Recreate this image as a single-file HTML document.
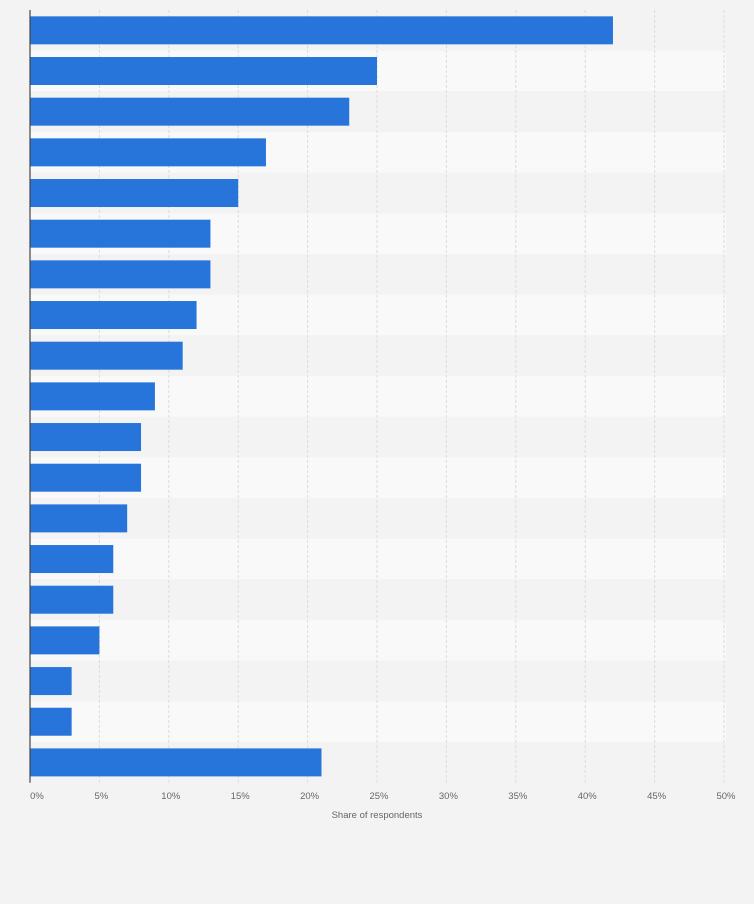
<!DOCTYPE html>
<html><head><meta charset="utf-8"><style>
body{margin:0;background:#f3f3f3;font-family:"Liberation Sans",sans-serif}
</style></head><body>
<svg id="c" width="754" height="899" xmlns="http://www.w3.org/2000/svg"></svg>
<script>
const values=[42,25,23,17,15,13,13,12,11,9,8,8,7,6,6,5,3,3,21];
const ticks=[0,5,10,15,20,25,30,35,40,45,50];
const tickLabels=ticks.map(t=>t+'%');
const svg=document.getElementById('c');
const NS='http://www.w3.org/2000/svg';
const x0=30,x1=724,yTop=10,pitch=40.67;
const xs=v=>x0+(v/50)*(x1-x0);
function mk(t,a,p){const e=document.createElementNS(NS,t);for(const k in a)e.setAttribute(k,a[k]);(p||svg).appendChild(e);return e;}
values.forEach((v,i)=>{
  const b=mk('rect',{x:x0,y:yTop+i*pitch,width:x1+2-x0,height:pitch,fill:i%2?'#f9f9f9':'#f3f3f3'});
  
  
});
ticks.forEach((t,i)=>{
  if(t>0){const g=mk('line',{x1:xs(t),x2:xs(t),y1:yTop,y2:yTop+values.length*pitch,stroke:'#dcdcdc','stroke-dasharray':'3,2'});
  
  }
  const l=mk('text',{x:xs(t)+(t===0?7:2),y:799,'font-size':9.5,fill:'#666','text-anchor':'middle'});
  l.textContent=tickLabels[i];
  
  
});
values.forEach((v,i)=>{
  const r=mk('rect',{x:x0,y:yTop+i*pitch+(pitch-28)/2,width:xs(v)-x0,height:28,fill:'#2775db'});
  
  
});
const ax=mk('line',{x1:x0,x2:x0,y1:yTop,y2:yTop+values.length*pitch,stroke:'#444','stroke-width':1.2});


const tt=mk('text',{x:377,y:818,'font-size':9.5,fill:'#666','text-anchor':'middle'});
tt.textContent='Share of respondents';


</script>
</body></html>
